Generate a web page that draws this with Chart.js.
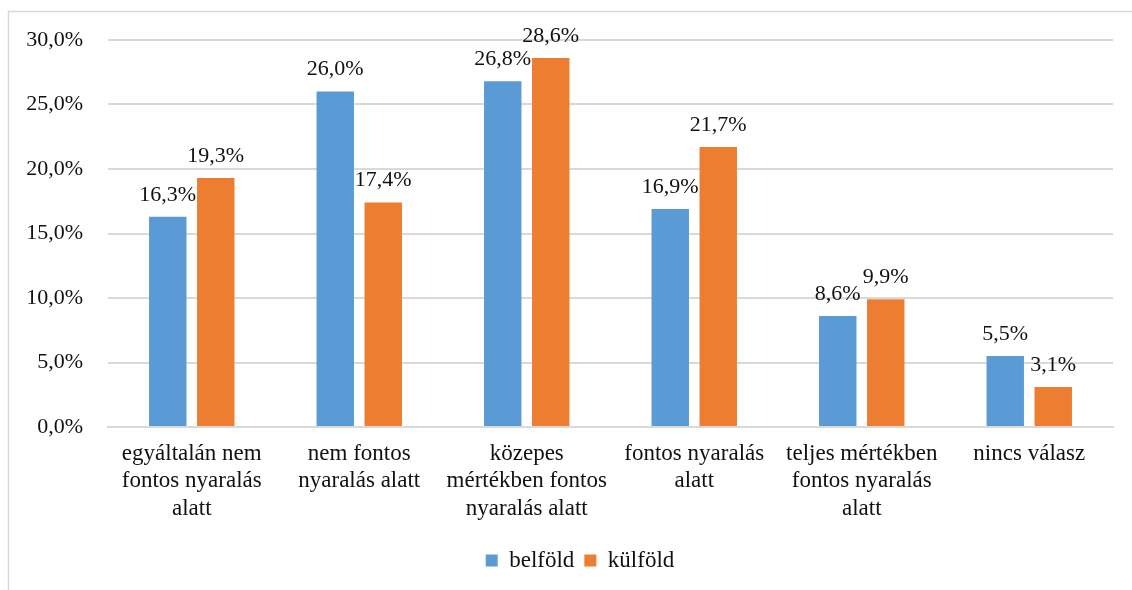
<!DOCTYPE html>
<html>
<head>
<meta charset="utf-8">
<script src="https://cdn.jsdelivr.net/npm/chart.js@4/dist/chart.umd.min.js"></script>
<style>
  html, body { margin: 0; padding: 0; background: #fff; }
  #wrap { width: 1132px; height: 590px; }
</style>
</head>
<body>
<div id="wrap"><canvas id="chart"></canvas></div>
<script>
const categories = [
  ['egyáltalán nem', 'fontos nyaralás', 'alatt'],
  ['nem fontos', 'nyaralás alatt'],
  ['közepes', 'mértékben fontos', 'nyaralás alatt'],
  ['fontos nyaralás', 'alatt'],
  ['teljes mértékben', 'fontos nyaralás', 'alatt'],
  'nincs válasz'
];
const belfold = [16.3, 26.0, 26.8, 16.9, 8.6, 5.5];
const kulfold = [19.3, 17.4, 28.6, 21.7, 9.9, 3.1];
const seriesNames = ['belföld', 'külföld'];
const yTicks = [0, 5, 10, 15, 20, 25, 30];

const fontFamily = '"Liberation Serif", "Times New Roman", serif';
const pct = v => v.toFixed(1).replace('.', ',') + '%';

// keret a diagram körül (bal és felső él látszik)
const framePlugin = {
  id: 'frame',
  beforeDraw(chart) {
    const c = chart.ctx;
    c.save();
    c.strokeStyle = '#d9d9d9';
    c.lineWidth = 1.5;
    c.strokeRect(8.5, 11.5, 2000, 2000);
    c.restore();
  }
};

// adatcímkék az oszlopok fölött
const labelPlugin = {
  id: 'barLabels',
  afterDatasetsDraw(chart) {
    const c = chart.ctx;
    c.save();
    c.font = '22px ' + fontFamily;
    c.fillStyle = '#111';
    c.textAlign = 'center';
    c.textBaseline = 'middle';
    chart.data.datasets.forEach((ds, i) => {
      chart.getDatasetMeta(i).data.forEach((bar, j) => {
        c.fillText(pct(ds.data[j]), bar.x, bar.y - 22);
      });
    });
    c.restore();
  }
};

new Chart(document.getElementById('chart'), {
  type: 'bar',
  data: {
    labels: categories,
    datasets: [
      { label: seriesNames[0], data: belfold, backgroundColor: '#5B9BD5', yAxisID: 'y' },
      { label: seriesNames[1], data: kulfold, backgroundColor: '#ED7D31', yAxisID: 'y' }
    ]
  },
  options: {
    responsive: true,
    maintainAspectRatio: false,
    animation: false,
    categoryPercentage: 0.573,
    barPercentage: 0.78,
    // negatív jobb margó + üres jobb oldali tengely: a jelmagyarázat így kerül jobbra
    layout: { padding: { left: 0, right: -28, top: 40, bottom: 8 } },
    scales: {
      x: {
        grid: { display: false, drawTicks: false },
        border: { display: true, color: '#d9d9d9', width: 2 },
        ticks: {
          color: '#111',
          padding: 13,
          maxRotation: 0,
          autoSkip: false,
          font: { family: fontFamily, size: 23, lineHeight: 1.2 }
        },
        afterFit(scale) { scale.height = 112; }
      },
      y: {
        position: 'left',
        min: 0,
        max: 30,
        afterBuildTicks(scale) { scale.ticks = yTicks.map(v => ({ value: v })); },
        grid: { color: '#d9d9d9', lineWidth: 2, drawTicks: false },
        border: { display: false },
        ticks: {
          color: '#111',
          padding: 25,
          font: { family: fontFamily, size: 22 },
          callback: v => pct(v)
        },
        afterFit(scale) { scale.width = 108; }
      },
      yRight: {
        position: 'right',
        min: 0,
        max: 30,
        grid: { display: false, drawTicks: false },
        border: { display: false },
        ticks: { display: false },
        afterFit(scale) { scale.width = 47; }
      }
    },
    plugins: {
      legend: {
        position: 'bottom',
        labels: {
          color: '#111',
          boxWidth: 12,
          boxHeight: 12,
          padding: 10,
          font: { family: fontFamily, size: 23 }
        }
      },
      tooltip: { enabled: false }
    }
  },
  plugins: [framePlugin, labelPlugin]
});
</script>
</body>
</html>
